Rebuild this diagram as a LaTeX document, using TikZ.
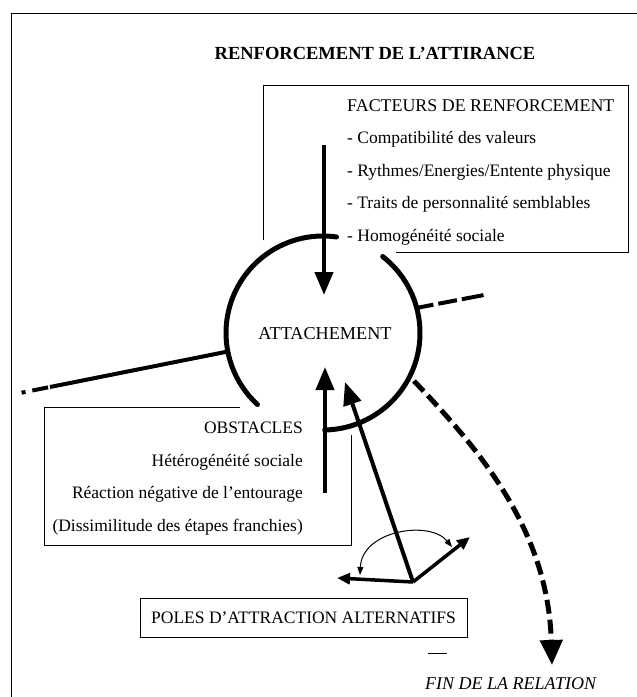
\documentclass[tikz,border=0pt]{standalone}
\usepackage{fontspec}
\setmainfont{Liberation Serif}
\usetikzlibrary{arrows.meta}
\begin{document}
\begin{tikzpicture}[x=1pt,y=-1pt,
  txt/.style={inner sep=0pt, font=\fontsize{17.5}{20}\selectfont},
  boxline/.style={line width=0.9pt},
  heavy/.style={line width=5pt, line cap=round},
  bigarrow/.style={line width=4pt, -{Triangle[length=23pt,width=18pt]}},
  smallarrow/.style={line width=3.5pt, -{Triangle[length=13pt,width=11pt]}},
]
\useasboundingbox (0,0) rectangle (637,697);
% frame
\coordinate (fa) at (11,697);
\coordinate (fb) at (11,13);
\coordinate (fc) at (637,13);
\draw[line width=1pt] (fa) -- (fb) -- (fc);

\node[anchor=base, inner sep=0pt, font=\fontsize{18.5}{22}\selectfont\bfseries] (title) at (375,59) {RENFORCEMENT DE L’ATTIRANCE};

% reinforcement box
\coordinate (b1) at (263,240);
\coordinate (b2) at (263,85);
\coordinate (b3) at (628,85);
\coordinate (b4) at (628,252);
\coordinate (b5) at (396,252);
\draw[boxline] (b1) -- (b2) -- (b3) -- (b4) -- (b5);
\node[txt, anchor=base west, font=\fontsize{17.9}{20}\selectfont] (fact) at (347,111) {FACTEURS DE RENFORCEMENT};
\node[txt, anchor=base west] (f1) at (347,143) {- Compatibilité des valeurs};
\node[txt, anchor=base west] (f2) at (347,176) {- Rythmes/Energies/Entente physique};
\node[txt, anchor=base west] (f3) at (347,208) {- Traits de personnalité semblables};
\node[txt, anchor=base west] (f4) at (347,241) {- Homogénéité sociale};

% circle
\coordinate (c) at (323,333);
\node[txt, anchor=base, font=\fontsize{18.2}{20}\selectfont] (att) at (325,339) {ATTACHEMENT};
\draw[heavy] (c) ++(-82:97) arc[start angle=-82,end angle=-227.5,radius=97];
\draw[heavy] (c) ++(-52:97) arc[start angle=-52,end angle=89,radius=97];

% left line
\coordinate (L0) at ([shift={(169:97)}]c);
\coordinate (L1) at (50,387);
\coordinate (L2) at (20,393);
\draw[line width=4pt] (L0) -- (L1);
\draw[line width=4pt, dash pattern=on 0pt off 2pt on 16pt off 7pt on 4pt off 20pt] (L1) -- (L2);

% right line
\coordinate (R0) at ([shift={(-15:97)}]c);
\coordinate (R1) at (484,295);
\draw[line width=4pt, dash pattern=on 17pt off 5pt on 19pt off 5pt on 22pt off 10pt] (R0) -- (R1);

% arrows into attachment
\coordinate (dtop) at (324,145);
\coordinate (dtip) at (324,295);
\draw[bigarrow] (dtop) -- (dtip);
\coordinate (ubot) at (325,493);
\coordinate (utip) at (325,367);
\draw[bigarrow] (ubot) -- (utip);
\coordinate (V) at (413,582);
\coordinate (vtip) at (345,382);
\draw[bigarrow] (V) -- (vtip);
\coordinate (sr) at (470,537);
\coordinate (sl) at (337,578);
\draw[smallarrow] (V) -- (sr);
\draw[smallarrow] (V) -- (sl);
\coordinate (al) at (360,575);
\coordinate (ar) at (452,547);
\draw[line width=1pt, {Triangle[length=8pt,width=6pt]}-{Triangle[length=8pt,width=6pt]}] (al) .. controls (362,530) and (430,520) .. (ar);

% end of relation
\coordinate (D0) at (414,381);
\coordinate (D1) at (552,665);
\draw[line width=5pt, dash pattern=on 14pt off 6pt, -{Triangle[length=25pt,width=22pt]}] (D0) .. controls (480,450) and (548,530) .. (D1);
\node[txt, anchor=base west, font=\fontsize{18}{20}\selectfont\itshape] (fin) at (425,689) {FIN DE LA RELATION};

% obstacles box
\coordinate (o1) at (240,407);
\coordinate (o2) at (44,407);
\coordinate (o3) at (44,545);
\coordinate (o4) at (351,545);
\coordinate (o5) at (351,435);
\draw[boxline] (o1) -- (o2) -- (o3) -- (o4) -- (o5);
\node[txt, anchor=base east] (obs) at (303,433) {OBSTACLES};
\node[txt, anchor=base east] (ob1) at (303,466) {Hétérogénéité sociale};
\node[txt, anchor=base east] (ob2) at (303,498) {Réaction négative de l’entourage};
\node[txt, anchor=base east] (ob3) at (303,531) {(Dissimilitude des étapes franchies)};

% poles box
\node[txt, draw, boxline, minimum width=327pt, minimum height=39pt] (poles) at (303.5,617.5) {POLES D’ATTRACTION ALTERNATIFS};

% stray mark
\coordinate (m1) at (428,653);
\coordinate (m2) at (447,653);
\draw[line width=0.8pt] (m1) -- (m2);
\end{tikzpicture}
\end{document}
